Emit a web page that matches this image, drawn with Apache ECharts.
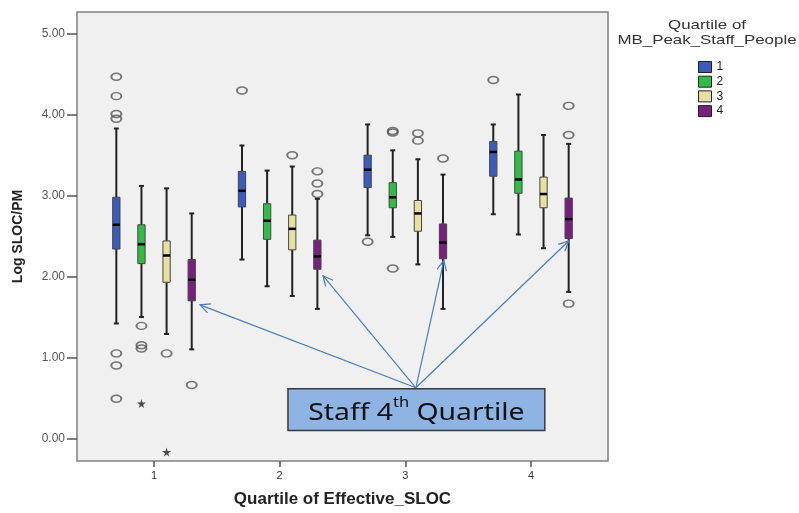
<!DOCTYPE html>
<html lang="en">
<head>
<meta charset="UTF-8">
<title>Log SLOC/PM</title>
<script src="https://cdn.jsdelivr.net/npm/echarts@6/dist/echarts.min.js"></script>
<style>
  html, body { margin: 0; padding: 0; background: #fff; }
  #main { width: 799px; height: 513px; }
</style>
</head>
<body>
<div id="main"></div>
<script>
// Quartile of Effective_SLOC (x groups)
var categories = [1, 2, 3, 4];
// Quartile of MB_Peak_Staff_People (series)
var staffNames = ['1', '2', '3', '4'];
var staffColors = ['#3b5cbc', '#33bb48', '#e6e0a2', '#7a1f80'];
var staffOffsets = [-0.3, -0.1, 0.1, 0.3];

// box stats: [whiskerLow, q1, median, q3, whiskerHigh], one row per SLOC quartile
var staff1Box = [[1.42, 2.34, 2.64, 2.98, 3.83], [2.21, 2.86, 3.06, 3.30, 3.62], [2.51, 3.10, 3.32, 3.50, 3.88], [2.77, 3.24, 3.54, 3.67, 3.88]];
var staff2Box = [[1.50, 2.16, 2.40, 2.64, 3.12], [1.88, 2.46, 2.69, 2.90, 3.31], [2.49, 2.85, 2.98, 3.16, 3.56], [2.52, 3.03, 3.20, 3.55, 4.25]];
var staff3Box = [[1.29, 1.93, 2.26, 2.44, 3.09], [1.76, 2.33, 2.59, 2.76, 3.36], [2.15, 2.56, 2.78, 2.94, 3.45], [2.35, 2.85, 3.02, 3.23, 3.75]];
var staff4Box = [[1.10, 1.70, 1.96, 2.21, 2.78], [1.60, 2.09, 2.25, 2.45, 2.96], [1.60, 2.22, 2.42, 2.65, 3.26], [1.81, 2.47, 2.71, 2.97, 3.64]];

// outliers (circles): [slocQuartile, value]
var staff1Out = [[1, 4.47], [1, 4.23], [1, 4.01], [1, 3.95], [1, 1.05], [1, 0.90], [1, 0.49], [2, 4.30], [3, 2.43], [4, 4.43]];
var staff2Out = [[1, 1.39], [1, 1.15], [1, 1.11], [3, 3.80], [3, 3.78], [3, 2.10]];
var staff3Out = [[1, 1.05], [2, 3.50], [3, 3.77], [3, 3.68]];
var staff4Out = [[1, 0.66], [2, 3.30], [2, 3.15], [2, 3.02], [3, 3.46], [4, 4.11], [4, 3.75], [4, 1.665]];
// extremes (stars)
var staff2Ext = [[1, 0.43]];
var staff3Ext = [[1, -0.17]];

var yTicks = [0, 1, 2, 3, 4, 5];

// annotation (data coords)
var noteBox = [[2.066, 0.612], [4.11, 0.098]];
var arrowFrom = [3.084, 0.625];
var arrowTo = [[1.366, 1.65], [2.345, 2.01], [3.307, 2.20], [4.30, 2.44]];

var boxes = [staff1Box, staff2Box, staff3Box, staff4Box];
var outs = [staff1Out, staff2Out, staff3Out, staff4Out];
var exts = [[], staff2Ext, staff3Ext, []];

var FONT = 'Liberation Sans, Arial, sans-serif';

function renderBox(params, api) {
    var x = api.value(0);
    var lo = api.coord([x, api.value(1)]);
    var q1 = api.coord([x, api.value(2)]);
    var md = api.coord([x, api.value(3)]);
    var q3 = api.coord([x, api.value(4)]);
    var hi = api.coord([x, api.value(5)]);
    var half = api.size([0.058, 0])[0] / 2;
    var cx = lo[0];
    var wl = { stroke: '#222', lineWidth: 2 };
    return {
        type: 'group',
        children: [
            { type: 'line', shape: { x1: cx, y1: hi[1], x2: cx, y2: q3[1] }, style: wl },
            { type: 'line', shape: { x1: cx, y1: q1[1], x2: cx, y2: lo[1] }, style: wl },
            { type: 'line', shape: { x1: cx - 2.5, y1: hi[1], x2: cx + 2.5, y2: hi[1] }, style: wl },
            { type: 'line', shape: { x1: cx - 2.5, y1: lo[1], x2: cx + 2.5, y2: lo[1] }, style: wl },
            {
                type: 'rect',
                shape: { x: cx - half, y: q3[1], width: half * 2, height: q1[1] - q3[1] },
                style: { fill: api.visual('color'), stroke: '#444', lineWidth: 1 }
            },
            { type: 'line', shape: { x1: cx - half, y1: md[1], x2: cx + half, y2: md[1] }, style: { stroke: '#000', lineWidth: 2.5 } }
        ]
    };
}

var series = [];
var outlierData = [];
var extremeData = [];
for (var s = 0; s < 4; s++) {
    var data = boxes[s].map(function (b, i) {
        return [categories[i] + staffOffsets[s]].concat(b);
    });
    series.push({
        name: staffNames[s],
        type: 'custom',
        renderItem: renderBox,
        itemStyle: { color: staffColors[s] },
        encode: { x: 0, y: [1, 2, 3, 4, 5] },
        data: data,
        z: 3
    });
    outs[s].forEach(function (o) {
        outlierData.push([o[0] + staffOffsets[s], o[1]]);
    });
    exts[s].forEach(function (o) {
        extremeData.push([o[0] + staffOffsets[s], o[1]]);
    });
}
series.push({
    name: 'outliers',
    type: 'scatter',
    data: outlierData,
    symbol: 'circle',
    symbolSize: [10, 7],
    itemStyle: { color: 'transparent', borderColor: '#555', borderWidth: 1.7 },
    z: 4
});
series.push({
    name: 'extremes',
    type: 'scatter',
    data: extremeData,
    symbol: 'path://M50,0 L61,35 L98,35 L68,57 L79,91 L50,70 L21,91 L32,57 L2,35 L39,35 Z',
    symbolSize: 9,
    itemStyle: { color: '#222' },
    z: 4
});

var myChart = echarts.init(document.getElementById('main'));

var option = {
    animation: false,
    backgroundColor: '#fff',
    grid: {
        left: 77, right: 191, top: 12, bottom: 48,
        show: true, backgroundColor: '#f0f0f0', borderColor: '#808080', borderWidth: 1.5
    },
    legend: {
        data: staffNames,
        orient: 'vertical',
        left: 693, top: 56,
        icon: 'rect',
        itemWidth: 13, itemHeight: 11, itemGap: 2.7,
        itemStyle: { borderColor: '#222', borderWidth: 1 },
        textStyle: { fontFamily: FONT, fontSize: 12, lineHeight: 11, color: '#222' }
    },
    xAxis: {
        type: 'value',
        min: 0.387, max: 4.613,
        name: 'Quartile of Effective_SLOC',
        nameLocation: 'middle',
        nameGap: 30,
        nameTextStyle: { fontFamily: FONT, fontSize: 17, fontWeight: 'bold', color: '#222' },
        axisLine: { show: false, onZero: false },
        splitLine: { show: false },
        axisTick: { show: true, customValues: categories, length: 6, lineStyle: { color: '#555', width: 1.5 } },
        axisLabel: { customValues: categories, margin: 9, fontFamily: FONT, fontSize: 11, color: '#333' }
    },
    yAxis: {
        type: 'value',
        min: -0.28, max: 5.27,
        name: 'Log SLOC/PM',
        nameLocation: 'middle',
        nameGap: 52,
        nameTextStyle: { fontFamily: FONT, fontSize: 14, fontWeight: 'bold', color: '#222' },
        axisLine: { show: false, onZero: false },
        splitLine: { show: false },
        axisTick: { show: true, customValues: yTicks, length: 10, lineStyle: { color: '#555', width: 1.5 } },
        axisLabel: {
            customValues: yTicks, margin: 12, fontFamily: FONT, fontSize: 12, color: '#555',
            formatter: function (v) { return v.toFixed(2); }
        }
    },
    series: series
};

myChart.setOption(option);

// annotation: legend title, note box and arrows
var p0 = myChart.convertToPixel({ gridIndex: 0 }, noteBox[0]);
var p1 = myChart.convertToPixel({ gridIndex: 0 }, noteBox[1]);
var from = myChart.convertToPixel({ gridIndex: 0 }, arrowFrom);
var graphics = [
    {
        type: 'text', x: 707, y: 18, scaleX: 1.3, z: 10,
        style: {
            text: 'Quartile of\nMB_Peak_Staff_People', align: 'center',
            font: '13px ' + FONT, lineHeight: 15, fill: '#333'
        }
    }
];
arrowTo.forEach(function (t) {
    var tp = myChart.convertToPixel({ gridIndex: 0 }, t);
    var ang = Math.atan2(tp[1] - from[1], tp[0] - from[0]);
    var L = 11, a = 0.45;
    graphics.push({
        type: 'polyline', z: 8,
        shape: { points: [from, tp] },
        style: { stroke: '#4a7ebb', lineWidth: 1.2, fill: null }
    });
    graphics.push({
        type: 'polyline', z: 8,
        shape: {
            points: [
                [tp[0] - L * Math.cos(ang - a), tp[1] - L * Math.sin(ang - a)],
                tp,
                [tp[0] - L * Math.cos(ang + a), tp[1] - L * Math.sin(ang + a)]
            ]
        },
        style: { stroke: '#4a7ebb', lineWidth: 1.2, fill: null }
    });
});
graphics.push({
    type: 'rect', z: 9,
    shape: { x: p0[0], y: p0[1], width: p1[0] - p0[0], height: p1[1] - p0[1] },
    style: { fill: '#8db4e3', stroke: '#3a3a3a', lineWidth: 1.5 }
});
graphics.push({
    type: 'text', z: 10,
    x: (p0[0] + p1[0]) / 2, y: (p0[1] + p1[1]) / 2 + 1, scaleX: 1.18,
    style: {
        text: '{a|Staff 4}{b|th}{a| Quartile}',
        align: 'center', verticalAlign: 'middle',
        rich: {
            a: { fontFamily: 'Noto Sans, Open Sans, sans-serif', fontSize: 24, fill: '#111', lineHeight: 30, verticalAlign: 'bottom' },
            b: { fontFamily: 'Noto Sans, Open Sans, sans-serif', fontSize: 14, fill: '#111', lineHeight: 30, verticalAlign: 'top' }
        }
    }
});
myChart.setOption({ graphic: graphics });
</script>
</body>
</html>
